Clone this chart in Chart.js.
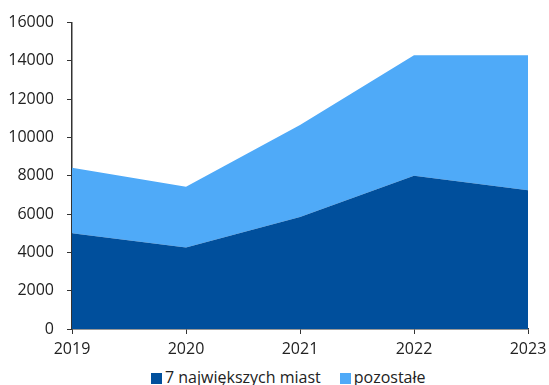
<!DOCTYPE html>
<html>
<head>
<meta charset="utf-8">
<script src="https://cdn.jsdelivr.net/npm/chart.js@4"></script>
<style>
  html, body { margin: 0; padding: 0; background: #fff; }
  #wrap { position: relative; width: 549px; height: 385px; font-family: 'Open Sans', sans-serif; }
  #legend { position: absolute; left: 151px; top: 367px; display: flex; gap: 19px; font-size: 16px; color: #222; line-height: 20px; white-space: nowrap; }
  #legend span.item { display: flex; align-items: center; }
  #legend i { display: inline-block; width: 11px; height: 11px; margin-right: 3px; margin-top: 3px; }
</style>
</head>
<body>
<div id="wrap">
  <canvas id="area-chart" width="549" height="362"></canvas>
  <div id="legend"></div>
</div>
<script>
const years = ['2019', '2020', '2021', '2022', '2023'];
const biggestCities = [5000, 4250, 5850, 8000, 7250];
const otherCities = [3420, 3180, 4800, 6300, 7050];
const yTicks = [0, 2000, 4000, 6000, 8000, 10000, 12000, 14000, 16000];

const darkBlue = '#004f9c';
const lightBlue = '#4faaf8';
const axisColor = '#333333';
const font = { family: "'Open Sans', sans-serif", size: 16 };

const ctx = document.getElementById('area-chart').getContext('2d');
const chart = new Chart(ctx, {
    type: 'line',
    data: {
        labels: years,
        datasets: [{
            label: '7 największych miast',
            data: biggestCities,
            backgroundColor: darkBlue,
            borderColor: darkBlue,
            borderWidth: 0,
            pointRadius: 0,
            fill: 'origin'
        }, {
            label: 'pozostałe',
            data: otherCities,
            backgroundColor: lightBlue,
            borderColor: lightBlue,
            borderWidth: 0,
            pointRadius: 0,
            fill: '-1'
        }]
    },
    options: {
        responsive: false,
        animation: false,
        layout: { padding: { left: 0, right: 21, top: 12, bottom: 0 } },
        plugins: {
            tooltip: { enabled: false },
            legend: { display: false }
        },
        scales: {
            x: {
                offset: false,
                grid: { drawOnChartArea: false, drawTicks: true, tickLength: 5, color: axisColor },
                border: { color: axisColor, width: 1.5 },
                ticks: { color: '#222', font: font, padding: 6, maxRotation: 0 },
                afterFit: (scale) => {
                    scale.height = 33;
                    // labels may overhang the edges, the layout padding covers them
                    scale.paddingLeft = 0;
                    scale.paddingRight = 0;
                }
            },
            y: {
                stacked: true,
                min: 0,
                max: 16000,
                afterBuildTicks: (scale) => { scale.ticks = yTicks.map(v => ({ value: v })); },
                grid: { drawOnChartArea: false, drawTicks: true, tickLength: 5, color: axisColor },
                border: { color: axisColor, width: 1.5 },
                ticks: { color: '#222', font: font, padding: 13, callback: (v) => String(v) },
                afterFit: (scale) => { scale.width = 72; }
            }
        }
    }
});

//legend built from the datasets
const legend = document.getElementById('legend');
chart.data.datasets.forEach(function(ds){
    const item = document.createElement('span');
    item.className = 'item';
    const box = document.createElement('i');
    box.style.background = ds.backgroundColor;
    item.appendChild(box);
    item.appendChild(document.createTextNode(ds.label));
    legend.appendChild(item);
});
</script>
</body>
</html>
